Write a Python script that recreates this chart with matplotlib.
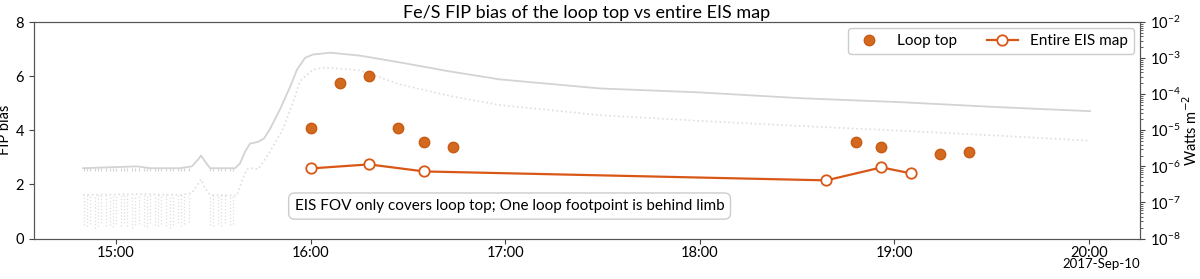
import matplotlib
matplotlib.use('Agg')
import matplotlib.pyplot as plt
import matplotlib.dates as mdates
import numpy as np
from datetime import datetime, timedelta

plt.rcParams['font.family'] = ['Lato', 'DejaVu Sans']

day = datetime(2017, 9, 10)

# EIS FIP bias, times as minutes after 14:00
loop_min = [120, 129, 138, 147, 155, 164, 288, 296, 314, 323]
loop_fip = [4.09, 5.73, 6.02, 4.09, 3.58, 3.39, 3.58, 3.39, 3.14, 3.18]

map_min = [120, 138, 155, 279, 296, 305]
map_fip = [2.59, 2.74, 2.48, 2.15, 2.63, 2.41]

# GOES X-ray flux (log10 W m^-2), minutes after 14:00
long_min = [49.8, 66.5, 70.5, 79.7, 83.4, 85.3, 86.2, 87.4, 89, 96.7, 98.2, 99.8,
            101.3, 103.8, 105.6, 107.5, 110.6, 113.6, 115.8, 118.3, 120.7, 126,
            135.2, 147.6, 163, 178.4, 209.2, 240, 270.9, 301.7, 332.5, 360.3]
long_log = [-6.05, -6.0, -6.05, -6.05, -6.0, -5.81, -5.70, -5.86, -6.05, -6.05, -5.92, -5.59,
            -5.37, -5.32, -5.23, -4.96, -4.41, -3.81, -3.32, -2.99, -2.90, -2.85,
            -2.93, -3.12, -3.37, -3.59, -3.84, -3.95, -4.11, -4.22, -4.36, -4.47]

short_min = [49.8, 66.5, 79.7, 83.4, 85.3, 86.2, 87.4, 89, 97.3, 99.1, 100.4, 102.2,
             103.8, 105.6, 107.5, 111.5, 114.6, 116.7, 120.7, 124.4, 135.2, 147.6,
             163, 178.4, 209.2, 240, 270.9, 301.7, 332.5, 360.3]
short_log = [-6.79, -6.77, -6.79, -6.74, -6.49, -6.36, -6.60, -6.79, -6.81, -6.33, -6.08, -6.05,
             -6.08, -5.84, -5.59, -4.96, -4.22, -3.64, -3.32, -3.26, -3.34, -3.73,
             -4.05, -4.30, -4.58, -4.74, -4.88, -5.01, -5.15, -5.29]

# pre-flare dropouts in the short channel
dip_min = [50, 51, 52, 53.5, 54.5, 55.5, 57, 58, 59, 60, 61.5, 62.5, 63.5, 65, 66, 67,
           68.5, 69.5, 70.5, 72, 73, 74, 75.5, 76.5, 77.5, 79, 80, 81, 82.5, 89, 90,
           91.5, 92.5, 93.5, 95, 96]
dip_log = [-7.62, -7.66, -7.60, -7.70, -7.64, -7.58, -7.66, -7.62, -7.68, -7.60, -7.64, -7.58,
           -7.66, -7.70, -7.62, -7.60, -7.64, -7.68, -7.58, -7.62, -7.66, -7.60, -7.64, -7.70,
           -7.62, -7.58, -7.64, -7.60, -7.55, -7.62, -7.66, -7.60, -7.64, -7.58, -7.62, -7.60]


def to_time(mins):
    return [day + timedelta(hours=14, minutes=m) for m in mins]


fig = plt.figure(figsize=(12, 2.79), dpi=100)
ax = fig.add_axes([0.0283, 0.145, 0.9217, 0.776])
ax2 = ax.twinx()

gray = '#d3d3d3'
light = '#dedede'
ax2.plot(to_time(long_min), 10 ** np.array(long_log), color=gray, lw=1.3)
ax2.plot(to_time(short_min), 10 ** np.array(short_log), color=light, lw=1.2, ls=':')
ax2.vlines(to_time(dip_min), 10 ** np.array(dip_log), 10 ** -6.79, color=light, lw=0.9, ls=':')
ax2.vlines(to_time(dip_min), 10 ** -6.12, 10 ** -6.05, color=gray, lw=0.8)
ax2.set_yscale('log')
ax2.set_ylim(1e-8, 1e-2)
ax2.set_ylabel('Watts m$^{-2}$', fontsize=10.5)
ax2.yaxis.set_label_coords(1.037, 0.5)

ax.set_zorder(ax2.get_zorder() + 1)
ax.patch.set_visible(False)

orange = '#d2691e'
line_c = '#d95716'
ax.plot(to_time(loop_min), loop_fip, 'o', color=orange, ms=7.5, mec='#c85a14', label='Loop top')
ax.plot(to_time(map_min), map_fip, '-o', color=line_c, lw=1.6, ms=7.5, mfc='white',
        mec=line_c, mew=1.3, label='Entire EIS map')

ax.set_ylim(0, 8)
ax.set_yticks([0, 2, 4, 6, 8])
ax.set_ylabel('FIP bias', fontsize=10.5)
ax.yaxis.set_label_coords(-0.02, 0.5)
ax.set_xlim(day + timedelta(hours=14, minutes=34.7), day + timedelta(hours=20, minutes=15.7))
ax.xaxis.set_major_locator(mdates.HourLocator())
ax.xaxis.set_major_formatter(mdates.DateFormatter('%H:%M'))
ax.set_title('Fe/S FIP bias of the loop top vs entire EIS map', fontsize=13, pad=3)
ax.xaxis.get_offset_text().set_visible(False)
ax2.xaxis.get_offset_text().set_visible(False)

for a in (ax, ax2):
    a.tick_params(labelsize=10.5, color='#444444', direction='out')
    for s in a.spines.values():
        s.set_color('#555555')
ax.tick_params(axis='x', pad=2)
ax2.tick_params(which='minor', color='#444444')

ax.text(1.0, -0.09, '2017-Sep-10', transform=ax.transAxes, ha='right', va='top', fontsize=9.5)

ax.text(0.43, 0.15, 'EIS FOV only covers loop top; One loop footpoint is behind limb',
        transform=ax.transAxes, ha='center', va='center', fontsize=11,
        bbox=dict(boxstyle='round,pad=0.4', fc='white', ec='#cccccc'))

leg = ax.legend(loc='upper right', ncol=2, fontsize=11, frameon=True, framealpha=1,
                edgecolor='#cccccc', borderaxespad=0.4, columnspacing=2.0)

fig.savefig('out.png', dpi=100)
